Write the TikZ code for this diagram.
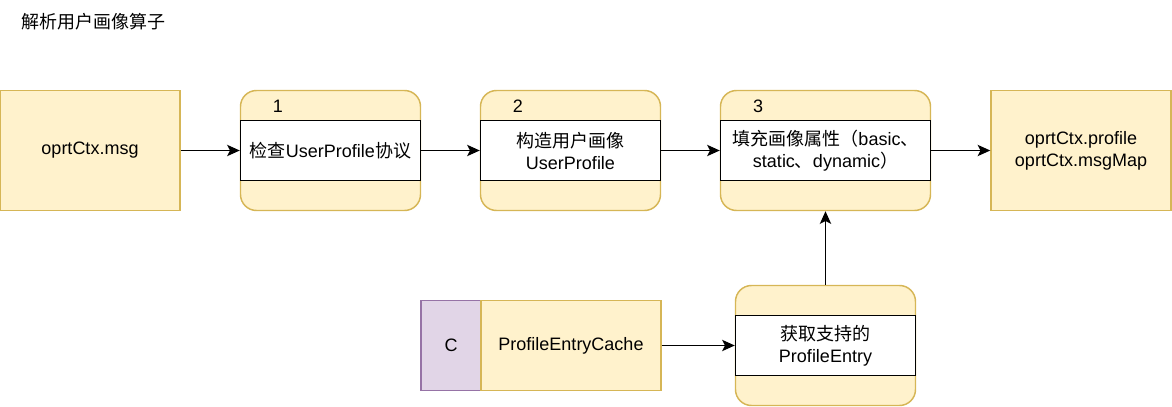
\documentclass[tikz,border=0pt]{standalone}
\usepackage{fontspec}
\setmainfont{Liberation Sans}
\newfontfamily\cjk{Noto Sans CJK SC}
\usetikzlibrary{arrows.meta}

\definecolor{noteyellow}{HTML}{FFF2CC}
\definecolor{edgeyellow}{HTML}{D6B656}
\definecolor{classpurple}{HTML}{E1D5E7}
\definecolor{edgepurple}{HTML}{9673A6}

\begin{document}
\begin{tikzpicture}[
  x=0.75pt,
  y=-0.75pt,
  databox/.style={
    draw=edgeyellow,
    fill=noteyellow,
    line width=1.1pt,
    rectangle,
    align=center,
    inner sep=0pt,
    minimum width=135pt,
    minimum height=90pt,
    font=\fontsize{13.5}{16.5}\selectfont
  },
  stagebox/.style={
    draw=edgeyellow,
    fill=noteyellow,
    line width=1.1pt,
    rectangle,
    rounded corners=12pt,
    inner sep=0pt,
    minimum width=135pt,
    minimum height=90pt
  },
  bodybox/.style={
    draw,
    fill=white,
    line width=1.1pt,
    rectangle,
    align=center,
    inner sep=0pt,
    minimum width=135pt,
    minimum height=45pt,
    font=\fontsize{13.5}{16.5}\selectfont
  },
  numlabel/.style={
    inner sep=0pt,
    font=\fontsize{13.5}{16.5}\selectfont
  },
  classbox/.style={
    draw=edgepurple,
    fill=classpurple,
    line width=1.1pt,
    rectangle,
    inner sep=0pt,
    minimum width=45pt,
    minimum height=67.5pt,
    font=\fontsize{13.5}{16.5}\selectfont
  },
  arrow/.style={-{Stealth[length=9.5pt,width=8.5pt,inset=2.2pt]}, line width=1pt}
]
\useasboundingbox (0,0) rectangle (1172,407);

% Title.
\node[anchor=west, font=\fontsize{13.5}{16.5}\selectfont] (title) at (17,22) {\cjk 解析用户画像算子};

% Input and output data.
\node[databox] (msg) at (90,150.5) {oprtCtx.msg};
\node[databox] (result) at (1081,150.5) {oprtCtx.profile\\oprtCtx.msgMap};

% Parsing stages.
\node[stagebox] (step1) at (330.5,150.5) {};
\node[bodybox] (step1body) at (330.5,150.5) {{\cjk 检查}UserProfile{\cjk 协议}};
\node[numlabel] (num1) at (278,106) {1};

\node[stagebox] (step2) at (570.5,150.5) {};
\node[bodybox] (step2body) at (570.5,150.5) {{\cjk 构造用户画像}\\UserProfile};
\node[numlabel] (num2) at (518,106) {2};

\node[stagebox, minimum width=157.5pt] (step3) at (825.5,150.5) {};
\node[bodybox, minimum width=157.5pt] (step3body) at (825.5,150.5) {{\cjk 填充画像属性（}basic{\cjk 、}\\static{\cjk 、}dynamic{\cjk ）}};
\node[numlabel] (num3) at (758,106) {3};

% Profile entry lookup.
\node[classbox] (cacheclass) at (451,345.5) {C};
\node[databox, minimum height=67.5pt] (cache) at (571,345.5) {ProfileEntryCache};
\node[stagebox] (step4) at (825.5,345.5) {};
\node[bodybox] (step4body) at (825.5,345.5) {{\cjk 获取支持的}\\ProfileEntry};

% Main workflow arrows.
\draw[arrow] (msg) -- (step1);
\draw[arrow] (step1) -- (step2);
\draw[arrow] (step2) -- (step3);
\draw[arrow] (step3) -- (result);

% Lookup arrows.
\draw[arrow] (cache) -- (step4);
\draw[arrow] (step4) -- (step3);

\end{tikzpicture}
\end{document}
